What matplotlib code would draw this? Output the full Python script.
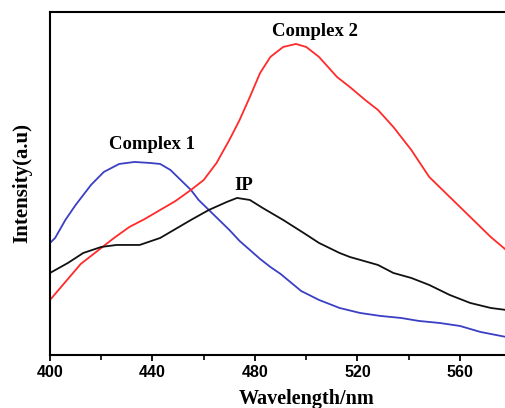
import matplotlib
matplotlib.use("Agg")
import matplotlib.pyplot as plt
from matplotlib.ticker import MultipleLocator

# ---- data (arbitrary intensity units) ----
wl_c1 = [400, 402, 406, 410, 416, 421, 427, 433, 439, 443, 447, 451, 455, 458,
         462, 466, 470, 474, 478, 482, 486, 490, 498, 505, 513, 521, 529, 537,
         544, 552, 560, 568, 578]
int_c1 = [112, 117, 135, 150, 170, 183, 191, 193, 192, 191, 185, 175, 165, 155,
          145, 135, 125, 114, 105, 96, 88, 81, 64, 55, 47, 42, 39, 37,
          34, 32, 29, 23, 18]

wl_c2 = [400, 404, 408, 412, 416, 420, 425, 431, 437, 443, 449, 455, 460, 465,
         470, 474, 478, 482, 486, 491, 496, 500, 505, 512, 517, 523, 528, 534,
         541, 548, 556, 564, 572, 578]
int_c2 = [55, 67, 79, 91, 99, 107, 117, 128, 136, 145, 154, 165, 175, 192,
          215, 235, 258, 282, 298, 308, 311, 308, 298, 278, 268, 255, 245, 228,
          205, 178, 158, 138, 118, 105]

wl_ip = [400, 407, 413, 420, 426, 435, 443, 447, 455, 462, 469, 473, 478, 483,
         491, 499, 505, 513, 517, 528, 534, 541, 548, 556, 564, 572, 578]
int_ip = [82, 92, 102, 108, 110, 110, 117, 123, 135, 145, 153, 157, 155, 147,
          135, 122, 112, 102, 98, 90, 82, 77, 70, 60, 52, 47, 45]

x_ticks = [400, 440, 480, 520, 560]
labels = ["Complex 1", "Complex 2", "IP"]
label_pos = [(439.8, 210), (503.4, 323), (475.7, 169)]

fig = plt.figure(figsize=(5.06, 4.08), dpi=100)
ax = fig.add_axes([0.0988, 0.130, 1.0128, 0.8407])

ax.plot(wl_c1, int_c1, color="#3a3fc4", lw=1.3)
ax.plot(wl_c2, int_c2, color="#ff2a2a", lw=1.3)
ax.plot(wl_ip, int_ip, color="#111111", lw=1.3)

for txt, (lx, ly) in zip(labels, label_pos):
    ax.text(lx, ly, txt, ha="center", va="center", fontsize=13.5,
            fontweight="bold", family="Liberation Serif")

ax.set_xlim(400, 600)
ax.set_ylim(0, 343)
ax.set_xticks(x_ticks)
ax.xaxis.set_minor_locator(MultipleLocator(20))
ax.set_yticks([])
ax.tick_params(axis="x", which="major", direction="out", length=4, width=1.3, pad=3)
ax.tick_params(axis="x", which="minor", direction="out", length=3.5, width=1.2)
for lab in ax.get_xticklabels():
    lab.set_fontfamily("Liberation Sans")
    lab.set_fontweight("bold")
    lab.set_fontsize(11.5)
for sp in ax.spines.values():
    sp.set_linewidth(1.5)

ax.set_xlabel("Wavelength/nm", fontsize=14.5, fontweight="bold",
              family="Liberation Serif", labelpad=7)
ax.set_ylabel("Intensity(a.u)", fontsize=15, fontweight="bold",
              family="Liberation Serif", labelpad=13)

fig.savefig("out.png", dpi=100)
